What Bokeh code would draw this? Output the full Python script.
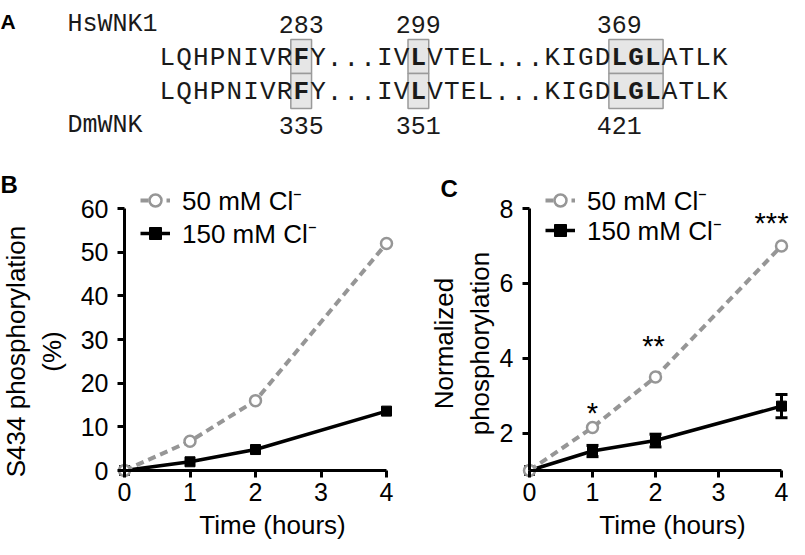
from bokeh.plotting import figure
from bokeh.models import (Range1d, FixedTicker, Label, LabelSet, Legend, LegendItem,
                          ColumnDataSource, Whisker, TeeHead, LinearAxis)
from bokeh.layouts import column, row
from bokeh.embed import file_html
from bokeh.resources import INLINE
from bokeh.core.properties import value

# ---------------- data ----------------
# Panel A: alignment
SEQ_HS = "LQHPNIVRFY...IVLVTEL...KIGDLGLATLK"
SEQ_DM = "LQHPNIVRFY...IVLVTEL...KIGDLGLATLK"
SPECIES = ["HsWNK1", "DmWNK"]
HS_NUMBERS = ["283", "299", "369"]
DM_NUMBERS = ["335", "351", "421"]
NUMBER_SLOTS = [8, 15, 27]
CONSERVED = [(8, 8), (15, 15), (27, 29)]

# Panels B and C
time_h = [0, 1, 2, 4]
x_ticks = [0, 1, 2, 3, 4]
b_low_cl = [0.0, 6.7, 16.0, 52.0]
b_high_cl = [0.0, 2.0, 4.8, 13.6]
b_ticks = [0, 10, 20, 30, 40, 50, 60]
c_low_cl = [1.0, 2.15, 3.5, 7.0]
c_high_cl = [1.0, 1.52, 1.8, 2.72]
c_high_err = [0.0, 0.15, 0.17, 0.31]
c_ticks = [2, 4, 6, 8]
star_time = [1, 2, 4]
star_text = ["*", "**", "***"]

LOW_LABEL = "50 mM Cl\u207b"
HIGH_LABEL = "150 mM Cl\u207b"

# ---------------- style ----------------
SANS = "Liberation Sans"
MONO = "Liberation Mono"
GRAY = "#969696"
BLACK = "#000000"
TXT = "#1a1a1a"

A_H = 148          # height of panel A
BC_H = 391         # height of panels B and C
B_W = 394
C_W = 395
Y_TOP_PX = 60      # y of top value, px from top of panel
Y_BOT_PX = 322     # y of bottom value, px from top of panel

# ---------------- panel A ----------------
SEQ_X0 = 158.4
PITCH = 16.74
ROW_Y = [57, 91]
BOX_Y = [(39, 73), (73, 108)]
LABEL_Y = [24, 125]
LABEL_X = 67

pa = figure(width=789, height=A_H, x_range=Range1d(0, 789), y_range=Range1d(A_H, 0),
            output_backend="svg", toolbar_location=None, min_border=0,
            x_axis_type=None, y_axis_type=None, outline_line_color=None)

bl, br, bt, bb = [], [], [], []
for (a, b) in CONSERVED:
    for (top, bot) in BOX_Y:
        bl.append(SEQ_X0 + a * PITCH - 2)
        br.append(SEQ_X0 + (b + 1) * PITCH + 2)
        bt.append(top)
        bb.append(bot)
pa.quad(left=bl, right=br, top=bt, bottom=bb, fill_color="#e6e6e6",
        line_color="#9a9a9a", line_width=1.5)

hl = set()
for (a, b) in CONSERVED:
    hl.update(range(a, b + 1))

nx, ny, nt, hx, hy, ht = [], [], [], [], [], []
for seq, y in zip([SEQ_HS, SEQ_DM], ROW_Y):
    for i, ch in enumerate(seq):
        cx = SEQ_X0 + (i + 0.5) * PITCH
        if i in hl:
            hx.append(cx); hy.append(y); ht.append(ch)
        else:
            nx.append(cx); ny.append(y); nt.append(ch)
pa.text(x=nx, y=ny, text=nt, text_font=value(MONO), text_font_size="26px",
        text_align="center", text_baseline="middle", text_color=TXT)
pa.text(x=hx, y=hy, text=ht, text_font=value(MONO), text_font_size="26px",
        text_font_style="bold", text_align="center", text_baseline="middle",
        text_color=TXT)

pa.text(x=[LABEL_X, LABEL_X], y=LABEL_Y, text=SPECIES, text_font=value(MONO),
        text_font_size="25px", text_align="left", text_baseline="middle",
        text_color=TXT)
num_x = [SEQ_X0 + (s + 0.5) * PITCH for s in NUMBER_SLOTS]
pa.text(x=num_x + num_x, y=[LABEL_Y[0]] * 3 + [LABEL_Y[1]] * 3,
        text=HS_NUMBERS + DM_NUMBERS, text_font=value(MONO), text_font_size="25px",
        text_align="center", text_baseline="middle", text_color=TXT)
pa.text(x=[0], y=[21], text=["A"], text_font=value(SANS), text_font_size="21px",
        text_font_style="bold", text_align="left", text_baseline="alphabetic")


# ---------------- panels B, C ----------------
def lin_range(v0, p0, v1, p1, size):
    """Range so that value v0 sits p0 px and v1 sits p1 px from the start edge."""
    k = (v1 - v0) / (p1 - p0)
    return Range1d(v0 - p0 * k, v0 + (size - p0) * k)


def style_axis(ax):
    ax.axis_line_width = 3
    ax.axis_line_color = BLACK
    ax.major_tick_line_width = 3
    ax.major_tick_line_color = BLACK
    ax.major_tick_in = 0
    ax.major_tick_out = 7
    ax.minor_tick_line_color = None
    ax.major_label_text_font = SANS
    ax.major_label_text_font_size = "25px"
    ax.major_label_text_color = BLACK
    ax.axis_label_text_font = SANS
    ax.axis_label_text_font_size = "26px"
    ax.axis_label_text_font_style = "normal"
    ax.axis_label_text_color = BLACK


def make_panel(width, ax_px, x4_px, y_lo, y_hi, yticks, ylabel, ylabel_gap,
               ylabel_shift):
    p = figure(width=width, height=BC_H,
               x_range=lin_range(0, ax_px, 4, x4_px, width),
               y_range=lin_range(y_lo, BC_H - Y_BOT_PX, y_hi, BC_H - Y_TOP_PX, BC_H),
               output_backend="svg", toolbar_location=None, min_border=0,
               outline_line_color=None)
    p.grid.visible = False
    for ax in p.xaxis:
        ax.fixed_location = y_lo
        ax.bounds = (0, 4)
        ax.ticker = FixedTicker(ticks=x_ticks)
        style_axis(ax)
        ax.major_label_standoff = 5
    for ax in p.yaxis:
        ax.fixed_location = 0
        ax.bounds = (y_lo, y_hi)
        ax.ticker = FixedTicker(ticks=yticks)
        style_axis(ax)
        ax.major_label_standoff = 9
    # axis title carried by a label-only axis on the same line, centred a bit lower
    units_per_px = (y_hi - y_lo) / (Y_BOT_PX - Y_TOP_PX)
    title_ax = LinearAxis(fixed_location=0, bounds=(y_lo - 2 * ylabel_shift * units_per_px, y_hi),
                          ticker=FixedTicker(ticks=[]), axis_label=ylabel,
                          axis_label_standoff=ylabel_gap)
    style_axis(title_ax)
    title_ax.axis_line_color = None
    title_ax.major_tick_out = 0
    title_ax.major_label_standoff = 0
    p.add_layout(title_ax, "left")
    return p


def add_series(p, low, high, legend_x, legend_bottoms):
    lh = p.line(time_h, high, line_color=BLACK, line_width=3.5)
    sh = p.scatter(time_h, high, marker="square", size=10, fill_color=BLACK,
                   line_color=BLACK)
    ll = p.line(time_h, low, line_color=GRAY, line_width=4, line_dash="8 5")
    sl = p.scatter(time_h, low, marker="circle", size=11, fill_color="white",
                   line_color=GRAY, line_width=2.5)
    for label, rends, bottom in [(LOW_LABEL, [ll, sl], legend_bottoms[0]),
                                 (HIGH_LABEL, [lh, sh], legend_bottoms[1])]:
        leg = Legend(items=[LegendItem(label=label, renderers=rends)],
                     location=(legend_x, bottom), orientation="vertical",
                     padding=0, margin=0, spacing=0, glyph_width=30,
                     glyph_height=40, label_height=40, label_standoff=12,
                     label_text_font=SANS, label_text_font_size="26px",
                     label_text_color=BLACK, border_line_color=None,
                     background_fill_alpha=0)
        p.add_layout(leg)


def add_title_labels(p, letter, letter_x, letter_mid, x_mid, x_title_mid):
    p.add_layout(Label(x=letter_x, y=letter_mid, x_units="screen", y_units="screen",
                       text=letter, text_font=SANS, text_font_size="24px",
                       text_font_style="bold", text_baseline="middle",
                       text_color=BLACK))
    p.add_layout(Label(x=x_mid, y=x_title_mid, x_units="data", y_units="screen",
                       text="Time (hours)", text_font=SANS, text_font_size="26px",
                       text_align="center", text_baseline="middle",
                       text_color=BLACK))


# Panel B
B_AX, B_X4 = 124, 386
pb = make_panel(B_W, B_AX, B_X4, 0, 60, b_ticks, "S434 phosphorylation\n(%)", 58, 12)
add_series(pb, b_low_cl, b_high_cl, 140, [BC_H - 72, BC_H - 105])
add_title_labels(pb, "B", 0, BC_H - 36, 2 + 17 * 4 / (B_X4 - B_AX), 15)

# Panel C
C_AX, C_X4 = 135, 387
pc = make_panel(C_W, C_AX, C_X4, 1, 8, c_ticks, "Normalized\nphosphorylation", 35, 4)
err_src = ColumnDataSource(dict(
    x=time_h,
    lower=[v - e for v, e in zip(c_high_cl, c_high_err)],
    upper=[v + e for v, e in zip(c_high_cl, c_high_err)]))
pc.add_layout(Whisker(base="x", lower="lower", upper="upper", source=err_src,
                      dimension="height", line_width=3, line_color=BLACK,
                      upper_head=TeeHead(size=12, line_width=3, line_color=BLACK),
                      lower_head=TeeHead(size=12, line_width=3, line_color=BLACK)))
add_series(pc, c_low_cl, c_high_cl, 151, [BC_H - 72, BC_H - 102])
add_title_labels(pc, "C", 46, BC_H - 40, 2 + 17 * 4 / (C_X4 - C_AX), 15)

star_src = ColumnDataSource(dict(
    x=star_time,
    y=[c_low_cl[time_h.index(t)] for t in star_time],
    text=star_text,
    dx=[0, -2, -10],
    dy=[4, 21, 13]))
pc.add_layout(LabelSet(x="x", y="y", text="text", x_offset="dx", y_offset="dy",
                       source=star_src, text_align="center",
                       text_baseline="alphabetic", text_font=value(SANS),
                       text_font_size="29px", text_color=BLACK))

layout = column(pa, row(pb, pc))
open("out.html", "w").write(file_html(layout, INLINE))
